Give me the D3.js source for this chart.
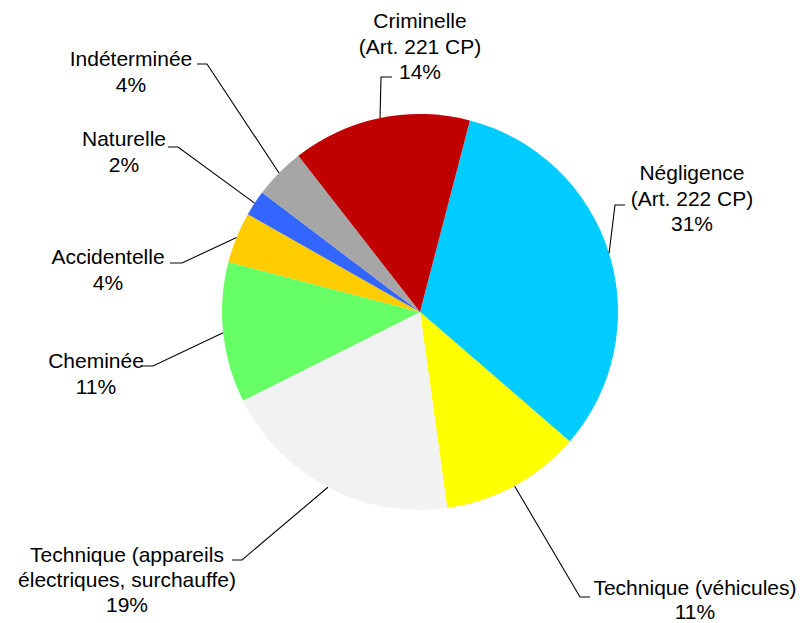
<!DOCTYPE html>
<html>
<head>
<meta charset="utf-8">
<script src="https://cdn.jsdelivr.net/npm/d3@7"></script>
<style>
  html, body { margin: 0; padding: 0; background: #fff; }
  svg { display: block; }
  text { font-family: "Liberation Sans", Arial, sans-serif; font-size: 21px; fill: #000; }
</style>
</head>
<body>
<svg id="chart" width="803" height="623"></svg>
<script>
// Causes of fires, share of cases (%)
const categories = [
  "Négligence\n(Art. 222 CP)",
  "Technique (véhicules)",
  "Technique (appareils\nélectriques, surchauffe)",
  "Cheminée",
  "Accidentelle",
  "Naturelle",
  "Indéterminée",
  "Criminelle\n(Art. 221 CP)"
];
const values = [31, 11, 19, 11, 4, 2, 4, 14];
const colors = ["#00CCFF", "#FFFF00", "#F2F2F2", "#66FF66", "#FFCC00", "#3366FF", "#A6A6A6", "#C00000"];

// Label placement: text centre x, first baseline y, line spacing, and the short
// horizontal tick [x at text side, x toward pie, y] where the leader line starts.
const labelLayout = [
  { cx: 692, y: 180, lh: 25.5, tick: [625, 615, 205] },
  { cx: 695, y: 595, lh: 23.5, tick: [590, 580, 597] },
  { cx: 127, y: 562, lh: 25,   tick: [232, 242, 560] },
  { cx: 96,  y: 368, lh: 25.5, tick: [142, 153, 366] },
  { cx: 108, y: 264, lh: 25.5, tick: [170, 182, 263] },
  { cx: 124, y: 146, lh: 25.5, tick: [168, 178, 147] },
  { cx: 131, y: 66,  lh: 25.5, tick: [197, 207, 64] },
  { cx: 420, y: 28,  lh: 25.5, tick: [392, 381, 77] }
];

const data = categories.map((c, i) => ({ name: c, value: values[i], color: colors[i], layout: labelLayout[i] }));

const svg = d3.select("#chart");
const cx = 420, cy = 312, radius = 198;
const start = 14.6 * Math.PI / 180;

const pie = d3.pie().sort(null).value(d => d.value)
  .startAngle(start).endAngle(start + 2 * Math.PI);
const arc = d3.arc().innerRadius(0).outerRadius(radius);

const g = svg.append("g").attr("transform", `translate(${cx},${cy})`);
const arcs = pie(data);

g.selectAll("path.slice")
  .data(arcs)
  .join("path")
  .attr("class", "slice")
  .attr("d", arc)
  .attr("fill", d => d.data.color);

// Leader lines: horizontal tick at the label, then straight to the slice edge at mid-angle
svg.selectAll("path.leader")
  .data(arcs)
  .join("path")
  .attr("class", "leader")
  .attr("fill", "none")
  .attr("stroke", "#000")
  .attr("stroke-width", 1.1)
  .attr("d", d => {
    const a = (d.startAngle + d.endAngle) / 2;
    const px = cx + radius * Math.sin(a);
    const py = cy - radius * Math.cos(a);
    const [x1, x2, ty] = d.data.layout.tick;
    return `M${x1},${ty}L${x2},${ty}L${px},${py}`;
  });

// Labels: category lines followed by percentage
const labels = svg.selectAll("text.label")
  .data(arcs)
  .join("text")
  .attr("class", "label")
  .attr("text-anchor", "middle");

labels.each(function(d) {
  const lines = d.data.name.split("\n").concat([d.data.value + "%"]);
  const t = d3.select(this);
  lines.forEach((ln, i) => {
    t.append("tspan")
      .attr("x", d.data.layout.cx)
      .attr("y", d.data.layout.y + i * d.data.layout.lh)
      .text(ln);
  });
});
</script>
</body>
</html>
